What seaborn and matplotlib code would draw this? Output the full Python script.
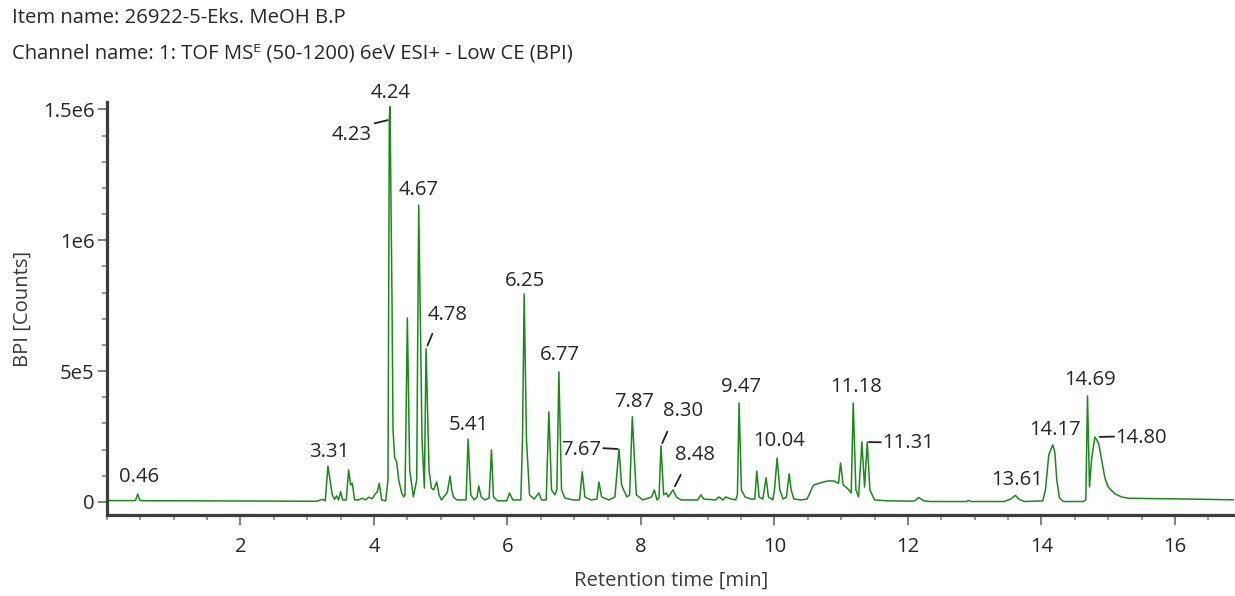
import matplotlib
matplotlib.use("Agg")
import matplotlib.pyplot as plt
import pandas as pd
import seaborn as sns
from matplotlib.ticker import FixedLocator, MultipleLocator

# ---------------- data ----------------
title_line1 = "Item name: 26922-5-Eks. MeOH B.P"
title_line2 = "Channel name: 1: TOF MS\u1d31 (50-1200) 6eV ESI+ - Low CE (BPI)"
x_label = "Retention time [min]"
y_label = "BPI [Counts]"

rt = [0.02, 0.40, 0.43, 0.46, 0.49, 0.52, 1.50, 2.50, 3.15, 3.23, 3.27, 3.31,
      3.375, 3.41, 3.44, 3.47, 3.50, 3.53, 3.585, 3.62, 3.65, 3.675, 3.71, 3.77,
      3.825, 3.875, 3.92, 3.975, 4.01, 4.05, 4.08, 4.115, 4.175, 4.21, 4.23, 4.24,
      4.27, 4.285, 4.31, 4.34, 4.37, 4.415, 4.445, 4.465, 4.50, 4.535, 4.59, 4.64,
      4.67, 4.72, 4.755, 4.78, 4.825, 4.86, 4.895, 4.94, 4.975, 5.01, 5.07, 5.10,
      5.14, 5.165, 5.19, 5.24, 5.38, 5.41, 5.45, 5.50, 5.545, 5.57, 5.605, 5.66,
      5.725, 5.76, 5.79, 5.85, 5.99, 6.03, 6.08, 6.20, 6.225, 6.25, 6.285, 6.33,
      6.40, 6.47, 6.51, 6.58, 6.62, 6.66, 6.71, 6.74, 6.77, 6.81, 6.86, 6.98,
      7.08, 7.12, 7.16, 7.25, 7.34, 7.37, 7.41, 7.52, 7.61, 7.67, 7.71, 7.74,
      7.79, 7.83, 7.87, 7.93, 8.03, 8.16, 8.20, 8.24, 8.27, 8.30, 8.34, 8.38,
      8.41, 8.45, 8.48, 8.53, 8.60, 8.85, 8.90, 8.94, 9.12, 9.165, 9.23, 9.27,
      9.35, 9.42, 9.445, 9.47, 9.505, 9.56, 9.645, 9.705, 9.735, 9.77, 9.825, 9.875,
      9.91, 9.975, 10.00, 10.04, 10.08, 10.13, 10.18, 10.22, 10.25, 10.29, 10.40, 10.49,
      10.57, 10.59, 10.69, 10.80, 10.89, 10.96, 10.99, 11.03, 11.10, 11.15, 11.18, 11.22,
      11.26, 11.31, 11.35, 11.39, 11.43, 11.50, 11.70, 12.05, 12.10, 12.16, 12.24, 12.34,
      12.88, 12.91, 12.94, 13.44, 13.54, 13.61, 13.66, 13.74, 14.02, 14.06, 14.11, 14.17,
      14.20, 14.23, 14.27, 14.33, 14.63, 14.665, 14.69, 14.72, 14.75, 14.80, 14.83, 14.86,
      14.91, 14.95, 15.00, 15.10, 15.20, 15.30, 16.05, 16.88]

bpi = [5000, 5000, 7000, 30000, 7000, 4500, 4000, 3000, 2500, 10000, 4000, 137000,
       27000, 10000, 23000, 7600, 39000, 7600, 7600, 122000, 65000, 71000, 7600, 7600,
       14000, 7600, 18000, 12600, 27000, 39000, 71000, 7600, 4000, 84000, 1460000, 1510000,
       772000, 275000, 168000, 153000, 84000, 34000, 19000, 27000, 703000, 122000, 19000, 84000,
       1134000, 237000, 53000, 585000, 122000, 53000, 46000, 76000, 27000, 7600, 27000, 38000,
       99000, 46000, 19000, 7600, 7600, 240000, 27000, 7600, 19000, 61000, 19000, 7600,
       15000, 199000, 19000, 4000, 4000, 34000, 7600, 7600, 237000, 795000, 237000, 27000,
       11000, 34000, 7600, 7600, 344000, 46000, 27000, 46000, 497000, 46000, 15000, 7600,
       7600, 115000, 19000, 7600, 11000, 76000, 19000, 7600, 19000, 202000, 65000, 46000,
       19000, 27000, 325000, 27000, 7600, 19000, 46000, 7600, 15000, 214000, 27000, 34000,
       19000, 34000, 46000, 19000, 7600, 7600, 27000, 11000, 7600, 19000, 7600, 19000,
       11000, 7600, 27000, 378000, 46000, 19000, 11000, 11000, 118000, 19000, 11000, 92000,
       19000, 7600, 46000, 168000, 46000, 11000, 19000, 107000, 46000, 11000, 7600, 11000,
       57000, 65000, 73000, 80000, 80000, 71000, 149000, 65000, 50000, 34000, 378000, 46000,
       19000, 229000, 57000, 229000, 46000, 7600, 4000, 3000, 3800, 17000, 3800, 1500,
       1500, 6000, 1500, 1500, 11000, 25000, 11000, 1500, 3800, 46000, 180000, 218000,
       191000, 84000, 15000, 1500, 1500, 7600, 405000, 57000, 160000, 248000, 237000, 221000,
       149000, 92000, 57000, 31000, 19000, 14000, 11500, 8000]

peak_labels = ["0.46", "3.31", "4.24", "4.23", "4.67", "4.78", "5.41", "6.25", "6.77",
               "7.67", "7.87", "8.30", "8.48", "9.47", "10.04", "11.18", "11.31",
               "13.61", "14.17", "14.69", "14.80"]
peak_rt = [0.46, 3.31, 4.24, 4.23, 4.67, 4.78, 5.41, 6.25, 6.77,
           7.67, 7.87, 8.30, 8.48, 9.47, 10.04, 11.18, 11.31,
           13.61, 14.17, 14.69, 14.80]

x_ticks = [2, 4, 6, 8, 10, 12, 14, 16]
x_tick_labels = ["2", "4", "6", "8", "10", "12", "14", "16"]
y_ticks = [0, 500000, 1000000, 1500000]
y_tick_labels = ["0", "5e5", "1e6", "1.5e6"]

# ---------------- layout / style ----------------
# label placement: text-centre offset (px) from apex, optional leader (start offset px, end gap px)
label_style = {
    "0.46": ((1, -17), None),
    "3.31": ((1, -14), None),
    "4.24": ((1, -14), None),
    "4.23": ((-38, 15), ((-14.7, 3.5), 1.6)),
    "4.67": ((0, -15), None),
    "4.78": ((21.5, -34), ((6.3, -14.9), 3.6)),
    "5.41": ((1, -14), None),
    "6.25": ((1, -13), None),
    "6.77": ((1.5, -17), None),
    "7.67": ((-37.5, 1), ((-15.6, -0.8), 1.6)),
    "7.87": ((1.7, -14.4), None),
    "8.30": ((22, -35), ((6.4, -14.3), 3.0)),
    "8.48": ((22, -35), ((7.7, -15), 4.0)),
    "9.47": ((1.7, -15.5), None),
    "10.04": ((1.6, -17), None),
    "11.18": ((2.6, -15.5), None),
    "11.31": ((46, 1.3), ((19, 0.3), 7.0)),
    "13.61": ((2, -15.5), None),
    "14.17": ((2, -15), None),
    "14.69": ((2.4, -16), None),
    "14.80": ((46.5, 1.2), ((19.4, -0.4), 5.0)),
}

sns.set_theme(style="ticks")
plt.rcParams["font.family"] = ["Open Sans", "DejaVu Sans"]

W, H = 1235, 596
fig = plt.figure(figsize=(W / 100, H / 100), dpi=100)
ax = fig.add_axes([107 / W, 1 - 515 / H, (W - 107) / W, (515 - 102) / H])

df = pd.DataFrame({"rt": rt, "bpi": bpi})
line_color = "#178a17"
sns.lineplot(data=df, x="rt", y="bpi", ax=ax, color=line_color, linewidth=1.1,
             estimator=None, sort=False)

ax.set_xlim(0.0, 16.9)
ax.set_ylim(-50000, 1528000)

ax.xaxis.set_major_locator(FixedLocator(x_ticks))
ax.set_xticklabels(x_tick_labels)
ax.xaxis.set_minor_locator(MultipleLocator(0.5))
ax.yaxis.set_major_locator(FixedLocator(y_ticks))
ax.set_yticklabels(y_tick_labels)
ax.yaxis.set_minor_locator(MultipleLocator(100000))

for s in ["top", "right"]:
    ax.spines[s].set_visible(False)
for s in ["left", "bottom"]:
    ax.spines[s].set_linewidth(2.3)
    ax.spines[s].set_color("#3c3c3c")

txt_color = "#262626"
fs = 14.6
ax.tick_params(axis="y", which="major", direction="out", length=6.5, width=1.2,
               color="#6a6a6a", pad=2.5, labelsize=fs, labelcolor=txt_color)
ax.tick_params(axis="y", which="minor", direction="out", length=3.5, width=1.2,
               color="#8a8a8a")
ax.tick_params(axis="x", which="major", direction="out", length=7.5, width=1.2,
               color="#6a6a6a", pad=8, labelsize=fs, labelcolor=txt_color)
ax.tick_params(axis="x", which="minor", direction="out", length=3.8, width=1.2,
               color="#8a8a8a")

ax.set_xlabel(x_label, fontsize=fs, color="#3a3a3a", labelpad=10)
ax.set_ylabel(y_label, fontsize=fs, color="#3a3a3a", labelpad=7)

fig.text(12 / W, 1 - 18 / H, title_line1, ha="left", va="center", fontsize=fs, color=txt_color)
fig.text(12 / W, 1 - 54 / H, title_line2, ha="left", va="center", fontsize=fs, color=txt_color)

px2pt = 72 / 100
for lab, r in zip(peak_labels, peak_rt):
    h = bpi[rt.index(r)]
    (dx, dy), leader = label_style[lab]
    ax.annotate(lab, xy=(r, h), xytext=(dx * px2pt, -dy * px2pt), textcoords="offset points",
                ha="center", va="center", fontsize=fs, color=txt_color, annotation_clip=False)
    if leader is not None:
        (lx, ly), gap = leader
        ax.annotate("", xy=(r, h), xytext=(lx * px2pt, -ly * px2pt), textcoords="offset points",
                    arrowprops=dict(arrowstyle="-", color="#222222", lw=1.3,
                                    shrinkA=0, shrinkB=gap * px2pt),
                    annotation_clip=False)

fig.savefig("out.png", dpi=100)
